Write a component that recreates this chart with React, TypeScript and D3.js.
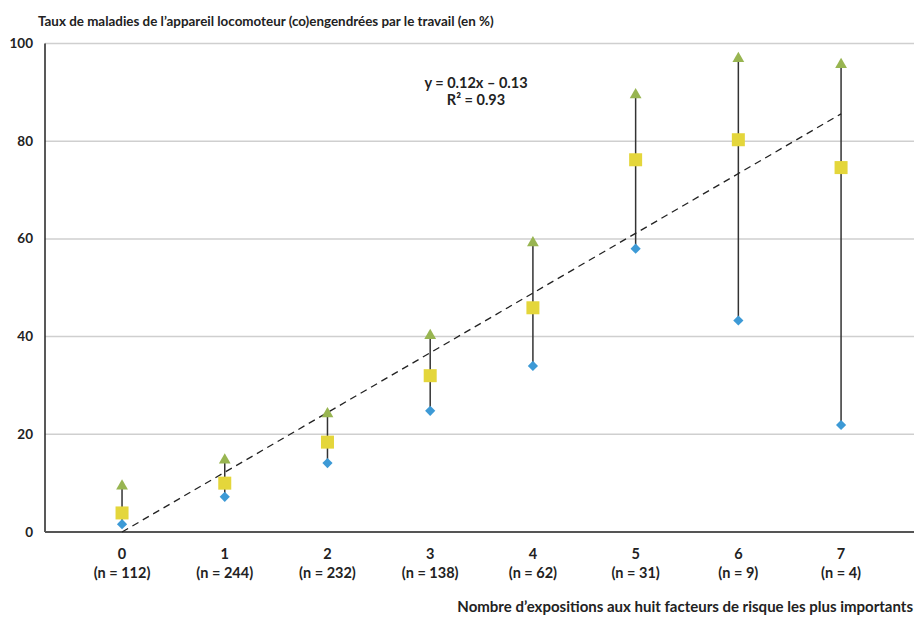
import React from "react";
import * as d3 from "d3";

const categories = [0, 1, 2, 3, 4, 5, 6, 7];
const sampleSizes = ["(n = 112)", "(n = 244)", "(n = 232)", "(n = 138)", "(n = 62)", "(n = 31)", "(n = 9)", "(n = 4)"];
const upperValues = [9.2, 14.5, 24, 40, 59, 89.3, 96.7, 95.5];
const meanValues = [3.9, 10, 18.4, 32, 45.9, 76.2, 80.3, 74.6];
const lowerValues = [1.6, 7.2, 14.1, 24.8, 34, 58, 43.3, 21.9];
const yTicks = [0, 20, 40, 60, 80, 100];
const trendX = [0, 7];
const trendY = [0, 85.6];

const W = 914;
const H = 617;
const FONT = "Lato, 'Open Sans', sans-serif";

export default function App() {
  const left = 45;
  const right = 914;
  const top = 43.5;
  const bottom = 532;
  const x = d3.scaleLinear().domain([-0.75, 7.71]).range([left, right]);
  const y = d3.scaleLinear().domain([0, 100]).range([bottom, top]);
  const tri = d3.symbol().type(d3.symbolTriangle).size(60)();
  const line = d3.line<number>().x((_, i) => x(trendX[i])).y((d) => y(d));

  return (
    <svg width={W} height={H} style={{ position: "absolute", left: 0, top: 0, background: "#fff" }}>
      <text x={38} y={26} fontFamily={FONT} fontWeight={700} fontSize={13.4} fill="#222">
        Taux de maladies de l’appareil locomoteur (co)engendrées par le travail (en %)
      </text>
      {yTicks.map((t) => (
        <g key={t}>
          {t > 0 && <line x1={left} x2={right} y1={y(t)} y2={y(t)} stroke="#cfcfcf" strokeWidth={1.5} />}
          <text x={33} y={y(t) + 4.5} textAnchor="end" fontFamily={FONT} fontWeight={700} fontSize={13.5} fill="#222">
            {t}
          </text>
        </g>
      ))}
      <line x1={left} x2={left} y1={top} y2={bottom} stroke="#222" strokeWidth={1.5} />
      <line x1={left} x2={right} y1={bottom} y2={bottom} stroke="#555" strokeWidth={2} />
      {categories.map((c, i) => (
        <g key={c}>
          <line x1={x(c)} x2={x(c)} y1={y(upperValues[i])} y2={y(lowerValues[i])} stroke="#333" strokeWidth={1.5} />
        </g>
      ))}
      <path d={line(trendY) || ""} fill="none" stroke="#222" strokeWidth={1.3} strokeDasharray="7,5" />
      {categories.map((c, i) => (
        <g key={"m" + c}>
          <path d={tri} transform={`translate(${x(c)},${y(upperValues[i]) - 1})`} fill="#98b551" />
          <rect x={-3.6} y={-3.6} width={7.2} height={7.2} transform={`translate(${x(c)},${y(lowerValues[i])}) rotate(45)`} fill="#3d9ad6" />
          <rect x={x(c) - 6.5} y={y(meanValues[i]) - 6.5} width={13} height={13} fill="#e4d63b" />
          <text x={x(c)} y={559} textAnchor="middle" fontFamily={FONT} fontWeight={700} fontSize={14.5} fill="#222">
            {c}
          </text>
          <text x={x(c)} y={578} textAnchor="middle" fontFamily={FONT} fontWeight={700} fontSize={14.5} fill="#222">
            {sampleSizes[i]}
          </text>
        </g>
      ))}
      <text x={476} y={88} textAnchor="middle" fontFamily={FONT} fontWeight={700} fontSize={14.5} fill="#222">
        y = 0.12x – 0.13
      </text>
      <text x={476} y={105} textAnchor="middle" fontFamily={FONT} fontWeight={700} fontSize={14.5} fill="#222">
        R² = 0.93
      </text>
      <text x={913} y={612} textAnchor="end" fontFamily={FONT} fontWeight={700} fontSize={15} fill="#222">
        Nombre d’expositions aux huit facteurs de risque les plus importants
      </text>
    </svg>
  );
}
